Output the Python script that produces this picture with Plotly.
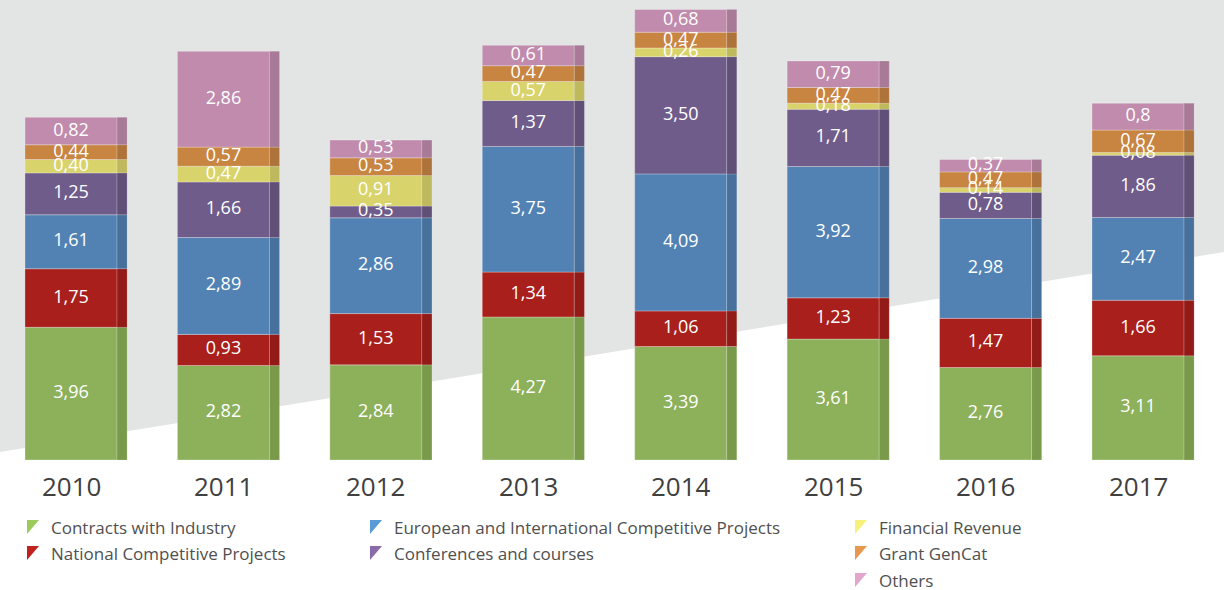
import numpy as np
import plotly.graph_objects as go

years = ["2010", "2011", "2012", "2013", "2014", "2015", "2016", "2017"]

# values as printed (comma decimal)
contracts_industry = ["3,96", "2,82", "2,84", "4,27", "3,39", "3,61", "2,76", "3,11"]
national_projects = ["1,75", "0,93", "1,53", "1,34", "1,06", "1,23", "1,47", "1,66"]
european_projects = ["1,61", "2,89", "2,86", "3,75", "4,09", "3,92", "2,98", "2,47"]
conferences = ["1,25", "1,66", "0,35", "1,37", "3,50", "1,71", "0,78", "1,86"]
financial_revenue = ["0,40", "0,47", "0,91", "0,57", "0,26", "0,18", "0,14", "0,08"]
grant_gencat = ["0,44", "0,57", "0,53", "0,47", "0,47", "0,47", "0,47", "0,67"]
others = ["0,82", "2,86", "0,53", "0,61", "0,68", "0,79", "0,37", "0,8"]

series_names = ["Contracts with Industry", "National Competitive Projects",
                "European and International Competitive Projects", "Conferences and courses",
                "Financial Revenue", "Grant GenCat", "Others"]
series_data = [contracts_industry, national_projects, european_projects, conferences,
               financial_revenue, grant_gencat, others]

front_colors = ["#8db05b", "#a81f1b", "#5282b4", "#6f5c8a", "#d9d36c", "#c88441", "#c18bad"]
side_colors = ["#7a9a4b", "#921b17", "#48709c", "#605078", "#bfb95e", "#ae733a", "#a87a97"]
legend_colors = ["#9bcb5a", "#c0221e", "#5b9bd5", "#8a6aa8", "#f7f07a", "#e8984d", "#e2a6cc"]

W, H = 1224, 590
xs = np.arange(len(years))
front_w = 0.604
side_w = 0.066

fig = go.Figure()

base = np.zeros(len(years))
label_x, label_y, label_t = [], [], []
for name, data, fc, sc in zip(series_names, series_data, front_colors, side_colors):
    vals = np.array([float(s.replace(",", ".")) for s in data])
    fig.add_trace(go.Bar(x=xs, y=vals, base=base, width=front_w, offset=-front_w / 2,
                         marker=dict(color=fc, line=dict(width=0.8, color="rgba(255,255,255,0.35)")),
                         name=name, showlegend=False, hoverinfo="skip"))
    fig.add_trace(go.Bar(x=xs, y=vals, base=base, width=side_w, offset=front_w / 2,
                         marker=dict(color=sc, line=dict(width=0.6, color="rgba(255,255,255,0.25)")),
                         showlegend=False, hoverinfo="skip"))
    label_x += list(xs)
    label_y += list(base + vals / 2)
    label_t += list(data)
    base = base + vals

fig.add_trace(go.Scatter(x=label_x, y=label_y, text=label_t, mode="text",
                         textposition="middle center",
                         textfont=dict(family="Open Sans", size=18, color="white"),
                         showlegend=False, hoverinfo="skip"))

# year labels
for i, yr in enumerate(years):
    fig.add_annotation(x=i, y=(H - 486) / H, xref="x", yref="paper", text=yr,
                       showarrow=False, font=dict(family="Open Sans", size=26, color="#404040"),
                       xanchor="center", yanchor="middle")

# grey background band
fig.add_shape(type="path", xref="paper", yref="paper", layer="below",
              path=f"M 0,1 L 1,1 L 1,{(H-252)/H:.4f} L 0,{(H-452)/H:.4f} Z",
              fillcolor="#e3e4e4", line=dict(width=0))

# legend (custom, three columns)
legend_pos = [(27, 527), (27, 553), (370, 527), (370, 553), (855, 527), (855, 553), (855, 580)]
for (px, py), name, col in zip(legend_pos, series_names, legend_colors):
    x0, x1 = px / W, (px + 12) / W
    y0, y1 = (H - (py - 7)) / H, (H - (py + 7)) / H
    fig.add_shape(type="path", xref="paper", yref="paper",
                  path=f"M {x0:.5f},{y0:.5f} L {x1:.5f},{y0:.5f} L {x0:.5f},{y1:.5f} Z",
                  fillcolor=col, line=dict(width=0))
    fig.add_annotation(x=(px + 22) / W, y=(H - py) / H, xref="paper", yref="paper",
                       text=name, showarrow=False, xanchor="left", yanchor="middle",
                       font=dict(family="Open Sans", size=17, color="#505050"))

ppu = 33.5
ymin = -(H - 460) / ppu
fig.update_layout(
    width=W, height=H, margin=dict(l=0, r=0, t=0, b=0),
    barmode="overlay", paper_bgcolor="white", plot_bgcolor="rgba(0,0,0,0)",
    xaxis=dict(range=[-71 / 152.43, -71 / 152.43 + W / 152.43], visible=False, fixedrange=True),
    yaxis=dict(range=[ymin, ymin + H / ppu], visible=False, fixedrange=True),
)

fig.write_html("out.html", config={"displayModeBar": False},
               post_script="document.body.style.margin='0';document.body.style.overflow='hidden';")
